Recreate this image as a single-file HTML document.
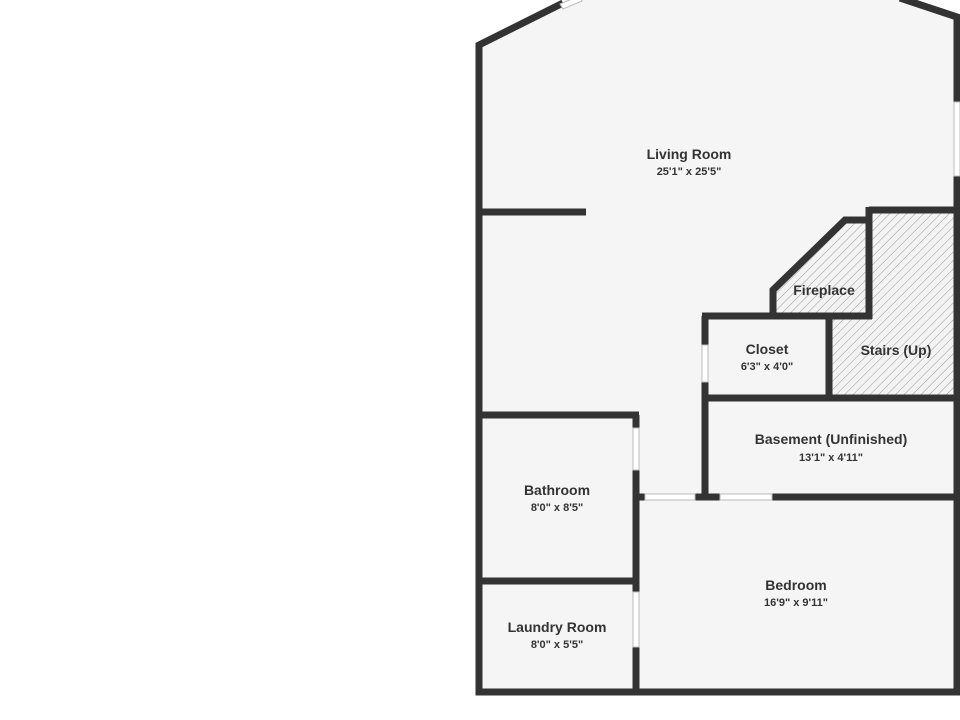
<!DOCTYPE html>
<html><head><style>
html,body{margin:0;padding:0;background:#fff;}
svg{display:block;}
text{font-family:"Liberation Sans",sans-serif;fill:#333;text-anchor:middle;}
.t{font-size:14px;font-weight:bold;}
.s{font-size:11px;font-weight:bold;}
</style></head><body>
<svg width="960" height="720" viewBox="0 0 960 720">
<defs>
<pattern id="h" width="6" height="6" patternUnits="userSpaceOnUse" patternTransform="rotate(45)">
<rect width="6" height="6" fill="#f3f3f3"/><line x1="0" y1="0" x2="0" y2="6" stroke="#999" stroke-width="1"/>
</pattern>
</defs>
<polygon points="479,43 565,0 900,0 957,18 957,689 479,689" fill="#f5f5f5"/>
<polygon points="773,313 773,290 845,220 869,220 869,313" fill="url(#h)"/>
<rect x="869" y="210" width="88" height="188" fill="url(#h)"/>
<rect x="829" y="316" width="40" height="82" fill="url(#h)"/>
<g stroke="#333" stroke-width="7" fill="none" stroke-linejoin="miter">
<polyline points="563,3 479,45 479,692 957,692 957,176"/>
<polyline points="957,102 957,17 900,-2"/>
<line x1="479" y1="212" x2="586" y2="212"/>
<polyline points="773,316 773,290 845,220 869,220"/>
<line x1="869" y1="207" x2="869" y2="319"/>
<line x1="869" y1="210" x2="957" y2="210"/>
<line x1="702" y1="316" x2="872" y2="316"/>
<line x1="705" y1="316" x2="705" y2="345"/>
<line x1="705" y1="382" x2="705" y2="500"/>
<line x1="829" y1="316" x2="829" y2="398"/>
<line x1="705" y1="398" x2="957" y2="398"/>
<line x1="636" y1="497" x2="645" y2="497"/>
<line x1="695" y1="497" x2="720" y2="497"/>
<line x1="772" y1="497" x2="957" y2="497"/>
<line x1="479" y1="415" x2="639" y2="415"/>
<line x1="636" y1="415" x2="636" y2="428"/>
<line x1="636" y1="470" x2="636" y2="592"/>
<line x1="636" y1="647" x2="636" y2="692"/>
<line x1="479" y1="581" x2="636" y2="581"/>
</g>
<g fill="#fff" stroke="#bbb" stroke-width="1">
<rect x="645" y="494" width="50" height="6"/>
<rect x="720" y="494" width="52" height="6"/>
<rect x="702" y="345" width="6" height="37"/>
<rect x="633" y="428" width="6" height="42"/>
<rect x="633" y="592" width="6" height="55"/>
<rect x="954" y="102" width="6" height="74"/>
<polygon points="560,4 579,-4 582,1 563,9"/>
</g>
<text class="t" x="689" y="159">Living Room</text>
<text class="s" x="689" y="175">25'1" x 25'5"</text>
<text class="t" x="824" y="295">Fireplace</text>
<text class="t" x="767" y="354">Closet</text>
<text class="s" x="767" y="370">6'3" x 4'0"</text>
<text class="t" x="896" y="355">Stairs (Up)</text>
<text class="t" x="831" y="444">Basement (Unfinished)</text>
<text class="s" x="831" y="461">13'1" x 4'11"</text>
<text class="t" x="557" y="495">Bathroom</text>
<text class="s" x="557" y="511">8'0" x 8'5"</text>
<text class="t" x="796" y="590">Bedroom</text>
<text class="s" x="796" y="606">16'9" x 9'11"</text>
<text class="t" x="557" y="632">Laundry Room</text>
<text class="s" x="557" y="648">8'0" x 5'5"</text>
</svg>
</body></html>
